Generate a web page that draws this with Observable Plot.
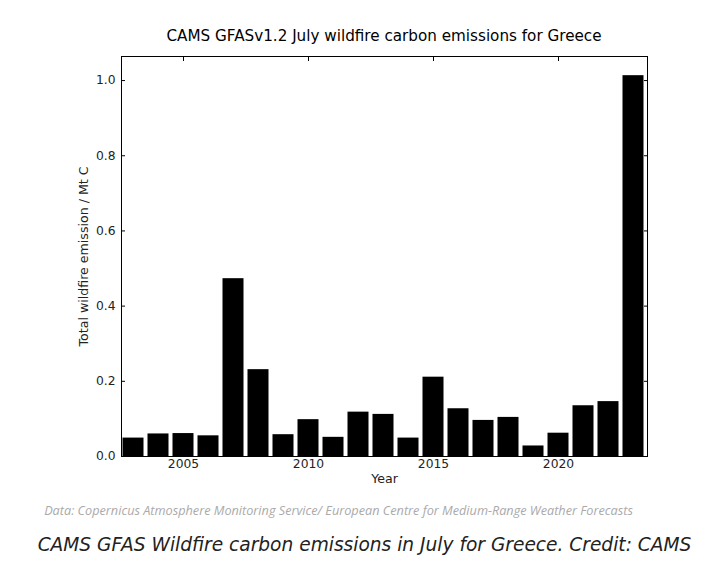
<!DOCTYPE html>
<html>
<head>
<meta charset="utf-8">
<script src="https://cdn.jsdelivr.net/npm/d3@7"></script>
<script src="https://cdn.jsdelivr.net/npm/@observablehq/plot@0.6"></script>
<style>
  body { margin: 0; background: #fff; width: 723px; font-family: "DejaVu Sans", sans-serif; }
  #title { height: 48px; line-height: 22px; padding-top: 25px; box-sizing: border-box; text-align: center; font-size: 15.2px; color: #000; padding-left: 45px; }
  #source { position: absolute; top: 501px; left: 0; width: 677px; text-align: center; font-family: "Open Sans", sans-serif; font-style: italic; font-size: 12.7px; color: #aaa; }
  #caption { position: absolute; top: 534px; left: 0; width: 729px; text-align: center; font-style: italic; font-size: 18.6px; color: #222; }
  svg { display: block; }
</style>
</head>
<body>
<div id="title">CAMS GFASv1.2 July wildfire carbon emissions for Greece</div>
<div id="chart"></div>
<div id="source">Data: Copernicus Atmosphere Monitoring Service/ European Centre for Medium-Range Weather Forecasts</div>
<div id="caption">CAMS GFAS Wildfire carbon emissions in July for Greece. Credit: CAMS</div>
<script>
const years = [2003, 2004, 2005, 2006, 2007, 2008, 2009, 2010, 2011, 2012, 2013, 2014, 2015, 2016, 2017, 2018, 2019, 2020, 2021, 2022, 2023];
const emissions = [0.049, 0.060, 0.061, 0.055, 0.473, 0.231, 0.058, 0.098, 0.051, 0.118, 0.112, 0.049, 0.211, 0.127, 0.096, 0.104, 0.028, 0.062, 0.135, 0.146, 1.013];
const xTicks = [2005, 2010, 2015, 2020];
const yTicks = [0.0, 0.2, 0.4, 0.6, 0.8, 1.0];
const yLabel = "Total wildfire emission / Mt C";
const xLabel = "Year";

const data = years.map((y, i) => ({year: y, value: emissions[i]}));
const half = 0.42;

const chart = Plot.plot({
  width: 723,
  height: 442,
  marginLeft: 121,
  marginRight: 76,
  marginTop: 8,
  marginBottom: 34,
  style: {fontFamily: "DejaVu Sans, sans-serif", fontSize: "12px", color: "#222", background: "#fff"},
  x: {domain: [2002.52, 2023.56], label: null},
  y: {domain: [0, 1.064], label: null},
  marks: [
    Plot.rect(data, {x1: d => d.year - half, x2: d => d.year + half, y1: 0, y2: "value", fill: "#000"}),
    Plot.frame({stroke: "#000", strokeWidth: 1}),
    Plot.axisX({anchor: "bottom", ticks: xTicks, tickFormat: "d", tickSize: -4, tickPadding: 7, stroke: "#000", fontSize: 12.3, label: null}),
    Plot.axisX({anchor: "top", ticks: xTicks, tickFormat: () => "", tickSize: -4, stroke: "#000", label: null}),
    Plot.axisY({anchor: "left", ticks: yTicks, tickFormat: ".1f", tickSize: -4, tickPadding: 10, stroke: "#000", fontSize: 12.3, label: null}),
    Plot.axisY({anchor: "right", ticks: yTicks, tickFormat: () => "", tickSize: -4, stroke: "#000", label: null}),
    Plot.text([yLabel], {frameAnchor: "left", dx: -38, rotate: -90, textAnchor: "middle", lineAnchor: "middle", fontSize: 12.6, fill: "#222"}),
    Plot.text([xLabel], {frameAnchor: "bottom", dy: 22, textAnchor: "middle", lineAnchor: "middle", fontSize: 12.6, fill: "#222"})
  ]
});
document.getElementById("chart").appendChild(chart);
</script>
</body>
</html>
